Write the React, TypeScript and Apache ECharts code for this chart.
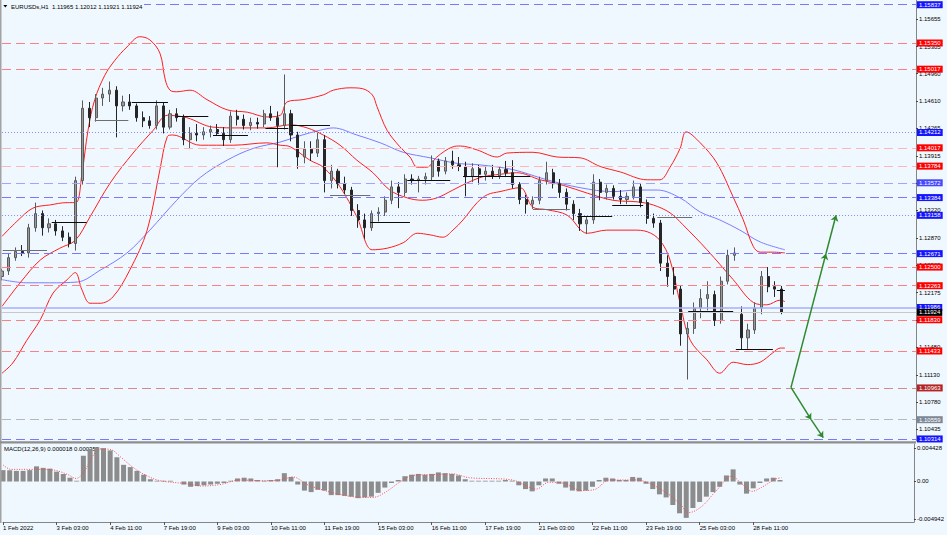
import React, { useEffect, useRef } from 'react';
import * as echarts from 'echarts';

// ---------------- data ----------------
const symbolName = 'EURUSDs,H1';
const headerQuote = ['1.11965', '1.12012', '1.11921', '1.11924'];
const macdName = 'MACD(12,26,9)';
const macdReadout = ['0.000018', '0.000355'];

const xTickLabels = [
  '1 Feb 2022', '3 Feb 03:00', '4 Feb 11:00', '7 Feb 19:00', '9 Feb 03:00',
  '10 Feb 11:00', '11 Feb 19:00', '15 Feb 03:00', '16 Feb 11:00', '17 Feb 19:00',
  '21 Feb 03:00', '22 Feb 11:00', '23 Feb 19:00', '25 Feb 03:00', '28 Feb 11:00',
];
const barsPerLabel = 8; // 4-hour bars between two time labels
const slotCount = 137; // bars incl. the empty space on the right
const categories = Array.from({ length: slotCount }, (_, i) => 'b' + i);

const priceTicks = [
  1.15655, 1.15305, 1.1496, 1.1461, 1.14265, 1.13915, 1.1357, 1.1322,
  1.1287, 1.12525, 1.12175, 1.1183, 1.1148, 1.1113, 1.1078, 1.10435,
];
const priceAxisMin = 1.10288;
const priceAxisMax = 1.15897;

const macdTicks = [0.004428, 0, -0.004942];
const macdAxisMin = -0.005345;
const macdAxisMax = 0.004949;

// [open, high, low, close]
const candlesOHLC = [
  [1.1238, 1.1248, 1.1233, 1.1245], [1.1245, 1.1268, 1.124, 1.1262], [1.1262, 1.1275, 1.1258, 1.127],
  [1.127, 1.1278, 1.1264, 1.1268], [1.1268, 1.1305, 1.1262, 1.13], [1.13, 1.1332, 1.1295, 1.1318],
  [1.1318, 1.1322, 1.129, 1.13], [1.13, 1.1312, 1.1294, 1.1305], [1.1305, 1.131, 1.129, 1.1296],
  [1.1296, 1.1302, 1.1283, 1.1288], [1.1288, 1.1294, 1.1275, 1.128], [1.128, 1.1365, 1.1271, 1.136],
  [1.136, 1.1462, 1.1355, 1.1452], [1.1452, 1.146, 1.1428, 1.144], [1.144, 1.147, 1.1435, 1.1465],
  [1.1465, 1.1478, 1.1455, 1.147], [1.147, 1.1486, 1.146, 1.1475], [1.1475, 1.148, 1.1415, 1.1455],
  [1.1455, 1.1468, 1.1448, 1.146], [1.146, 1.147, 1.145, 1.1455], [1.1455, 1.1458, 1.1435, 1.144],
  [1.144, 1.1448, 1.1428, 1.1436], [1.1436, 1.1442, 1.1426, 1.143], [1.143, 1.1462, 1.1425, 1.1455],
  [1.1455, 1.146, 1.142, 1.1428], [1.1428, 1.145, 1.1425, 1.1445], [1.1445, 1.1452, 1.1435, 1.144],
  [1.144, 1.1444, 1.1405, 1.1412], [1.1412, 1.1428, 1.14, 1.142], [1.142, 1.1432, 1.141, 1.1418],
  [1.1418, 1.1428, 1.1412, 1.1422], [1.1422, 1.143, 1.1415, 1.1425], [1.1425, 1.1432, 1.1418, 1.142],
  [1.142, 1.1428, 1.1404, 1.1412], [1.1412, 1.1448, 1.1408, 1.1442], [1.1442, 1.145, 1.143, 1.1438],
  [1.1438, 1.1444, 1.1425, 1.143], [1.143, 1.144, 1.1424, 1.1434], [1.1434, 1.144, 1.1426, 1.1432],
  [1.1432, 1.145, 1.1428, 1.1445], [1.1445, 1.1455, 1.1436, 1.144], [1.144, 1.1448, 1.1377, 1.143],
  [1.143, 1.1495, 1.1425, 1.1445], [1.1445, 1.145, 1.141, 1.1418], [1.1418, 1.1422, 1.1375, 1.139],
  [1.139, 1.141, 1.1382, 1.14], [1.14, 1.141, 1.1385, 1.1395], [1.1395, 1.1422, 1.139, 1.1412],
  [1.1412, 1.1418, 1.1345, 1.136], [1.136, 1.138, 1.135, 1.1372], [1.1372, 1.1375, 1.135, 1.1356],
  [1.1356, 1.1365, 1.1343, 1.1348], [1.1348, 1.1352, 1.1315, 1.1322], [1.1322, 1.133, 1.13, 1.131],
  [1.131, 1.1318, 1.1286, 1.13], [1.13, 1.1322, 1.1296, 1.1318], [1.1318, 1.1326, 1.1308, 1.132],
  [1.132, 1.134, 1.1315, 1.1335], [1.1335, 1.136, 1.133, 1.1352], [1.1352, 1.1358, 1.1325, 1.1345],
  [1.1345, 1.1368, 1.134, 1.1362], [1.1362, 1.1368, 1.1355, 1.136], [1.136, 1.1366, 1.1345, 1.1362],
  [1.1362, 1.137, 1.1355, 1.1365], [1.1365, 1.1392, 1.136, 1.1385], [1.1385, 1.1388, 1.1365, 1.1372],
  [1.1372, 1.139, 1.1368, 1.1385], [1.1385, 1.1398, 1.1375, 1.138], [1.138, 1.139, 1.1372, 1.1378],
  [1.1378, 1.1384, 1.134, 1.1365], [1.1365, 1.1382, 1.1358, 1.1375], [1.1375, 1.138, 1.1355, 1.1368],
  [1.1368, 1.1378, 1.136, 1.1372], [1.1372, 1.138, 1.1362, 1.1366], [1.1366, 1.1378, 1.1362, 1.1374],
  [1.1374, 1.1385, 1.1366, 1.137], [1.137, 1.1386, 1.135, 1.1355], [1.1355, 1.1358, 1.133, 1.1336],
  [1.1336, 1.1342, 1.1318, 1.133], [1.133, 1.134, 1.1324, 1.1335], [1.1335, 1.1365, 1.133, 1.136],
  [1.136, 1.1384, 1.1355, 1.137], [1.137, 1.1375, 1.135, 1.1356], [1.1356, 1.1362, 1.1338, 1.1345],
  [1.1345, 1.135, 1.1322, 1.133], [1.133, 1.1335, 1.131, 1.1318], [1.1318, 1.1324, 1.1296, 1.1305],
  [1.1305, 1.1315, 1.1292, 1.131], [1.131, 1.1368, 1.1305, 1.1358], [1.1358, 1.1362, 1.1335, 1.1345],
  [1.1345, 1.1355, 1.1336, 1.135], [1.135, 1.1354, 1.1336, 1.134], [1.134, 1.1348, 1.133, 1.1336],
  [1.1336, 1.1345, 1.133, 1.134], [1.134, 1.136, 1.1336, 1.1352], [1.1352, 1.1356, 1.1326, 1.1332],
  [1.1332, 1.1336, 1.1305, 1.1312], [1.1312, 1.1318, 1.13, 1.1306], [1.1306, 1.131, 1.1245, 1.1255],
  [1.1255, 1.1265, 1.1225, 1.1238], [1.1238, 1.125, 1.1215, 1.1222], [1.1222, 1.1226, 1.115, 1.1165],
  [1.1165, 1.118, 1.1107, 1.1172], [1.1172, 1.1205, 1.1165, 1.1198], [1.1198, 1.1222, 1.1185, 1.121],
  [1.121, 1.1232, 1.1195, 1.1215], [1.1215, 1.122, 1.1175, 1.1182], [1.1182, 1.1238, 1.1178, 1.1232],
  [1.1232, 1.1272, 1.1228, 1.1265], [1.1265, 1.1275, 1.1258, 1.1268], [1.119, 1.12, 1.1145, 1.116],
  [1.116, 1.1178, 1.1146, 1.117], [1.117, 1.1205, 1.1165, 1.1198], [1.1198, 1.1245, 1.119, 1.1238],
  [1.1238, 1.125, 1.1218, 1.1225], [1.1225, 1.1232, 1.1212, 1.1222], [1.1222, 1.1226, 1.119, 1.11924],
];

// Bollinger bands and moving average: [bar position, price]
const bbUpper = [
  [0, 1.1289], [2.2, 1.1308], [4.6, 1.1325], [7.1, 1.1329], [9.7, 1.1332], [11.0, 1.1332],
  [11.9, 1.1369], [12.8, 1.1424], [13.8, 1.1463], [15.3, 1.1494], [16.8, 1.1513], [18.6, 1.153],
  [20.5, 1.1543], [22.0, 1.1539], [23.5, 1.1522], [24.3, 1.1488], [25.0, 1.1475], [26.0, 1.1473],
  [28.0, 1.1475], [30.5, 1.1463], [33.5, 1.145], [36.5, 1.1447], [39.4, 1.1441], [41.4, 1.1443],
  [42.4, 1.146], [44.8, 1.1463], [47.8, 1.1469], [49.3, 1.1475], [51.8, 1.1478], [53.6, 1.1477],
  [55.1, 1.1469], [55.8, 1.1454], [57.3, 1.1424], [59.2, 1.1403], [60.7, 1.139], [61.8, 1.1377],
  [63.2, 1.1377], [64.7, 1.139], [67.1, 1.1403], [68.2, 1.1404], [70.7, 1.1399], [73.7, 1.139],
  [75.1, 1.1395], [79.0, 1.1396], [82.6, 1.139], [86.0, 1.1389], [89.0, 1.1378], [92.0, 1.1371],
  [96.0, 1.1361], [97.9, 1.1361], [99.4, 1.1377], [100.9, 1.1401], [101.8, 1.1422], [103.9, 1.1408],
  [106.4, 1.1382], [108.8, 1.1339], [110.3, 1.131], [111.8, 1.1276], [112.8, 1.1269], [114.7, 1.1269],
  [116.5, 1.1268],
];
const bbMiddle = [
  [0, 1.12], [2.7, 1.123], [5.7, 1.1259], [8.6, 1.1274], [10.9, 1.1284], [13.1, 1.1314],
  [16.1, 1.1357], [19.5, 1.1395], [22.5, 1.1424], [24.6, 1.1443], [27.5, 1.144], [31.4, 1.1428],
  [35.4, 1.1427], [39.4, 1.1427], [42.9, 1.1431], [45.4, 1.1427], [47.8, 1.1418], [50.3, 1.1405],
  [52.8, 1.1386], [55.2, 1.137], [57.7, 1.1348], [60.3, 1.1338], [62.6, 1.1335], [64.7, 1.1338],
  [67.1, 1.1348], [69.2, 1.1357], [71.6, 1.1365], [74.1, 1.1368], [76.6, 1.137], [80.1, 1.1361],
  [83.5, 1.1354], [87.1, 1.1344], [90.9, 1.1335], [94.5, 1.1333], [96.9, 1.1329], [99.4, 1.1319],
  [101.3, 1.1304], [104.9, 1.1272], [108.8, 1.1234], [111.8, 1.1205], [113.8, 1.1202], [115.8, 1.1208],
  [116.5, 1.1206],
];
const bbLower = [
  [0, 1.1115], [1.6, 1.1128], [3.7, 1.1157], [5.7, 1.1183], [7.6, 1.1217], [9.7, 1.1234],
  [10.9, 1.1243], [11.9, 1.1221], [13.1, 1.1204], [14.6, 1.1204], [16.5, 1.1212], [19.0, 1.1246],
  [21.6, 1.1297], [23.5, 1.1374], [24.6, 1.1416], [25.4, 1.1418], [29.5, 1.1405], [34.4, 1.1405],
  [39.4, 1.1408], [41.4, 1.1405], [42.9, 1.1403], [45.8, 1.1386], [47.8, 1.1377], [50.3, 1.1352],
  [52.8, 1.1314], [55.1, 1.1272], [57.3, 1.1274], [59.7, 1.1281], [61.8, 1.1293], [63.7, 1.1291],
  [65.6, 1.1288], [67.1, 1.1297], [68.6, 1.131], [70.7, 1.1332], [72.2, 1.1342], [74.1, 1.1346],
  [77.1, 1.1351], [79.0, 1.1326], [81.1, 1.1323], [84.1, 1.1316], [87.1, 1.1293], [90.0, 1.1297],
  [93.9, 1.1297], [96.0, 1.1295], [97.9, 1.1284], [99.4, 1.1259], [100.9, 1.1204], [102.4, 1.1157],
  [104.9, 1.1132], [106.8, 1.1115], [108.8, 1.1129], [110.9, 1.1126], [112.8, 1.1129], [114.7, 1.1141],
  [115.8, 1.1147], [116.5, 1.1147],
];
const maLine = [
  [0, 1.1234], [3.7, 1.123], [7.1, 1.123], [11.2, 1.1231], [14.6, 1.1246], [18.6, 1.1268],
  [22.0, 1.1297], [26.0, 1.1335], [29.5, 1.1364], [33.5, 1.1386], [37.4, 1.1401], [41.4, 1.1409],
  [44.3, 1.1417], [47.3, 1.1424], [49.3, 1.1427], [52.8, 1.1418], [56.3, 1.1408], [59.7, 1.1396],
  [63.7, 1.1389], [67.7, 1.1382], [71.1, 1.138], [76.0, 1.1374], [81.1, 1.1361], [86.0, 1.1351],
  [90.9, 1.1346], [94.5, 1.1348], [97.5, 1.1348], [100.9, 1.1338], [103.9, 1.132], [106.8, 1.131],
  [109.8, 1.1297], [112.8, 1.1282], [116.5, 1.1272],
];

// horizontal price levels drawn on the chart
const levelPrices = [
  1.15837, 1.1535, 1.15017, 1.14212, 1.14017, 1.13784, 1.13572, 1.13384, 1.13158, 1.12671,
  1.125, 1.12263, 1.11986, 1.11924, 1.1183, 1.11433, 1.10963, 1.10559, 1.10314,
];
const levelKinds = [
  'blue', 'red', 'red', 'blueDot', 'paleRed', 'paleRed', 'blueLight', 'blue', 'blueDot', 'blue',
  'red', 'red', 'blueSolid', 'bid', 'red', 'red', 'darkRed', 'gray', 'blue',
];

// short horizontal segments: [from bar, to bar, price]
const segments = [
  [0.1, 6.7, 1.1272], [7.4, 12.6, 1.1307], [13.8, 18.8, 1.1437], [19.3, 24.7, 1.146],
  [26.0, 30.7, 1.1442], [31.4, 36.6, 1.1418], [39.2, 42.6, 1.1426], [42.9, 48.8, 1.143],
  [48.8, 54.8, 1.1342], [54.8, 60.7, 1.1307], [60.3, 66.7, 1.1361], [68.6, 78.6, 1.1365],
  [79.0, 84.5, 1.1323], [85.6, 90.8, 1.1315], [90.8, 95.4, 1.1329], [97.5, 102.7, 1.1313],
  [102.1, 108.8, 1.1194], [109.2, 114.7, 1.1146], [115.3, 116.5, 1.1221],
];
const greySegments = [0, 2, 8, 12, 15];

// projection arrows: [bar, price]
const arrowUp = [[117.4, 1.1097], [122.6, 1.1267], [124.1, 1.1316]];
const arrowDown = [[117.4, 1.1097], [120.4, 1.1056], [122.2, 1.1033]];

// MACD main (histogram) per 4-hour bar
const macdHist = [
  0.0015, 0.0015, 0.0014, 0.0014, 0.0015, 0.002, 0.0018, 0.0017, 0.0013, 0.001,
  0.0005, 0.0001, 0.0034, 0.0043, 0.0045, 0.0044, 0.0041, 0.0032, 0.0022, 0.0019,
  0.0014, 0.0009, 0.0003, 0.0001, 0.0001, 0.0001, 0.0, -0.0004, -0.0007, -0.0006,
  -0.0005, -0.0004, -0.0003, -0.0002, 0.0001, 0.0004, 0.0005, 0.0004, 0.0002, 0.0001,
  0.0002, 0.0003, 0.0011, 0.0006, -0.0004, -0.0012, -0.0014, -0.0011, -0.0012, -0.0018,
  -0.0018, -0.0019, -0.002, -0.0022, -0.0021, -0.002, -0.0015, -0.0008, -0.0002, 0.0002,
  0.0007, 0.0009, 0.001, 0.0009, 0.001, 0.0012, 0.0011, 0.001, 0.0008, 0.0003,
  0.0001, 0.0001, 0.0001, 0.0001, 0.0001, 0.0002, 0.0001, -0.0005, -0.001, -0.0013,
  -0.0005, 0.0004, 0.0004, -0.0003, -0.0008, -0.0012, -0.0013, -0.0012, -0.0007, 0.0002,
  0.0005, 0.0004, 0.0002, 0.0002, 0.0006, 0.0005, -0.0003, -0.001, -0.0017, -0.0021,
  -0.0031, -0.0042, -0.0048, -0.0035, -0.0027, -0.002, -0.0014, -0.0007, 0.0008, 0.0016,
  -0.0004, -0.0016, -0.0009, -0.0002, 0.0004, 0.0005, 0.0002,
];
const macdSignal = [
  [0, 0.0022], [1.2, 0.0016], [4.6, 0.0016], [7.6, 0.0015], [9.7, 0.0009], [10.9, 0.0004],
  [12.1, 0.0013], [13.5, 0.0035], [14.6, 0.0043], [16.1, 0.0042], [17.6, 0.0032], [19.5, 0.0018],
  [21.6, 0.0007], [23.5, 0.0001], [27.5, -0.0003], [29.5, -0.0006], [32.4, -0.0004], [35.4, 0.0002],
  [38.4, 0.0001], [41.4, 0.0002], [43.3, 0.0006], [45.4, -0.0004], [47.3, -0.001], [49.3, -0.0015],
  [52.2, -0.002], [55.2, -0.0021], [57.3, -0.0013], [59.2, -0.0001], [61.2, 0.0008], [64.1, 0.0009],
  [67.1, 0.001], [69.6, 0.0005], [76.0, 0.0002], [79.6, -0.001], [81.5, -0.0001], [83.5, -0.0002],
  [86.5, -0.0012], [88.5, -0.001], [90.5, 0.0002], [94.5, 0.0002], [96.4, -0.0002], [99.4, -0.0017],
  [101.3, -0.0032], [102.4, -0.0041], [104.3, -0.0033], [106.4, -0.0013], [108.8, 0.0007], [110.3, -0.0003],
  [111.8, -0.0013], [113.2, -0.0008], [115.3, 0.0003], [116.2, 0.0005],
];

// ---------------- styles ----------------
const FONT = '"Liberation Sans", Arial, sans-serif';
const BG = '#f0f8ff';
const DASH = [9, 5];
const levelStyleMap: Record<string, { line: string; type: any; width: number; box: string }> = {
  blue: { line: '#7878ff', type: DASH, width: 1, box: '#1414ff' },
  blueLight: { line: '#a4a4ff', type: DASH, width: 1, box: '#4646ff' },
  blueDot: { line: '#8c8cff', type: [1, 2], width: 1, box: '#1414ff' },
  blueSolid: { line: '#a6aeff', type: 'solid', width: 1.6, box: '#1414ff' },
  bid: { line: '#c8c8c8', type: 'solid', width: 1, box: '#000000' },
  red: { line: '#ff8080', type: DASH, width: 1, box: '#ff0000' },
  paleRed: { line: '#ffb6b6', type: DASH, width: 1, box: '#ff0000' },
  darkRed: { line: '#d48a8a', type: DASH, width: 1, box: '#b32424' },
  gray: { line: '#b8b8b8', type: DASH, width: 1, box: '#7d8796' },
};

function buildOption() {
  const isLabelSlot = (i: number) => i % barsPerLabel === 0 && i / barsPerLabel < xTickLabels.length;

  const levelLines = levelPrices.map((p, i) => {
    const s = levelStyleMap[levelKinds[i]];
    return {
      yAxis: p,
      lineStyle: { color: s.line, type: s.type, width: s.width },
      label: {
        show: true,
        position: 'end',
        distance: 1,
        formatter: p.toFixed(5),
        color: '#ffffff',
        backgroundColor: s.box,
        padding: [0, 2, 0, 2],
        fontSize: 6,
        lineHeight: 7,
        fontFamily: FONT,
      },
    };
  });

  const segLines = segments.map(([a, b, p], i) => [
    {
      coord: [a, p],
      symbol: 'none',
      lineStyle: { color: greySegments.includes(i) ? '#6e6e6e' : '#0c0c0c', type: 'solid', width: 1 },
      label: { show: false },
    },
    { coord: [b, p], symbol: 'none' },
  ]);

  const arrowStyle = { color: '#2f8a2f', type: 'solid', width: 1.5 };
  const arrowLines: any[] = [];
  [arrowUp, arrowDown].forEach((pts) => {
    arrowLines.push([
      { coord: pts[0], symbol: 'none', lineStyle: arrowStyle, label: { show: false } },
      { coord: pts[1], symbol: 'arrow', symbolSize: 6 },
    ]);
    arrowLines.push([
      { coord: pts[1], symbol: 'none', lineStyle: arrowStyle, label: { show: false } },
      { coord: pts[2], symbol: 'arrow', symbolSize: 6 },
    ]);
  });

  const lineSeries = (name: string, data: number[][], color: string, extra: any = {}) => ({
    name,
    type: 'line',
    xAxisIndex: 2,
    yAxisIndex: 0,
    data,
    smooth: 0.35,
    symbol: 'none',
    silent: true,
    lineStyle: { color, width: 1 },
    emphasis: { disabled: true },
    ...extra,
  });

  return {
    animation: false,
    backgroundColor: BG,
    textStyle: { fontFamily: FONT },
    grid: [
      { left: 2, top: 0, width: 914, height: 441 },
      { left: 2, top: 444, width: 914, height: 78 },
    ],
    xAxis: [
      { type: 'category', gridIndex: 0, data: categories, boundaryGap: false, show: false },
      {
        type: 'category',
        gridIndex: 1,
        data: categories,
        boundaryGap: false,
        axisLine: { show: true, onZero: false, lineStyle: { color: '#858585', width: 1 } },
        axisTick: { show: true, interval: isLabelSlot, length: 3, lineStyle: { color: '#555' } },
        axisLabel: {
          show: true,
          interval: isLabelSlot,
          formatter: (_v: string, idx: number) => xTickLabels[idx / barsPerLabel] ?? '',
          align: 'left',
          margin: 3,
          fontSize: 6,
          color: '#000',
          fontFamily: FONT,
        },
        splitLine: { show: false },
      },
      { type: 'value', gridIndex: 0, min: 0, max: slotCount - 1, show: false },
      { type: 'value', gridIndex: 1, min: 0, max: slotCount - 1, show: false },
    ],
    yAxis: [
      {
        type: 'value',
        gridIndex: 0,
        position: 'right',
        min: priceAxisMin,
        max: priceAxisMax,
        axisLine: { show: true, onZero: false, lineStyle: { color: '#858585' } },
        axisTick: { show: true, length: 2, customValues: priceTicks, lineStyle: { color: '#444' } },
        axisLabel: {
          show: true,
          customValues: priceTicks,
          formatter: (v: number) => v.toFixed(5),
          fontSize: 6,
          color: '#000',
          margin: 3,
          fontFamily: FONT,
        },
        splitLine: { show: false },
      },
      {
        type: 'value',
        gridIndex: 1,
        position: 'right',
        min: macdAxisMin,
        max: macdAxisMax,
        axisLine: { show: true, onZero: false, lineStyle: { color: '#858585' } },
        axisTick: { show: true, length: 2, customValues: macdTicks, lineStyle: { color: '#444' } },
        axisLabel: {
          show: true,
          customValues: macdTicks,
          formatter: (v: number) => (v === 0 ? '0.00' : v.toFixed(6)),
          fontSize: 6,
          color: '#000',
          margin: 3,
          fontFamily: FONT,
        },
        splitLine: { show: false },
      },
    ],
    series: [
      lineSeries('levels', [], '#000', {
        clip: false,
        markLine: {
          silent: true,
          precision: 6,
          symbol: ['none', 'none'],
          animation: false,
          emphasis: { disabled: true },
          data: [...levelLines, ...segLines, ...arrowLines],
        },
      }),
      lineSeries('MA', maLine, '#7c7cff', { z: 3 }),
      lineSeries('BB upper', bbUpper, '#ff1e1e', { z: 3 }),
      lineSeries('BB middle', bbMiddle, '#ff1e1e', { z: 3 }),
      lineSeries('BB lower', bbLower, '#ff1e1e', { z: 3 }),
      {
        name: 'EURUSD',
        type: 'candlestick',
        xAxisIndex: 0,
        yAxisIndex: 0,
        data: candlesOHLC.map(([o, h, l, c]) => [o, c, l, h]),
        barWidth: 2.6,
        silent: true,
        z: 4,
        emphasis: { disabled: true },
        itemStyle: {
          color: '#9a9a9a',
          color0: '#262626',
          borderColor: '#5a5a5a',
          borderColor0: '#262626',
          borderWidth: 1,
        },
      },
      {
        name: 'MACD',
        type: 'bar',
        xAxisIndex: 1,
        yAxisIndex: 1,
        data: macdHist,
        barWidth: 5,
        silent: true,
        itemStyle: { color: '#8c8c8c' },
        emphasis: { disabled: true },
      },
      {
        name: 'Signal',
        type: 'line',
        xAxisIndex: 3,
        yAxisIndex: 1,
        data: macdSignal,
        smooth: 0.35,
        symbol: 'none',
        silent: true,
        z: 3,
        lineStyle: { color: '#ff4a4a', width: 1, type: [1, 1.5] },
        emphasis: { disabled: true },
      },
    ],
    graphic: [
      { type: 'rect', silent: true, z: 5, shape: { x: 0, y: 0, width: 1.5, height: 523 }, style: { fill: '#a3a3a3' } },
      { type: 'rect', silent: true, z: 5, shape: { x: 0, y: 441.3, width: 916, height: 2.2 }, style: { fill: '#8e8e8e' } },
      { type: 'rect', silent: true, z: 10, shape: { x: 2, y: 0.5, width: 142, height: 10 }, style: { fill: BG } },
      {
        type: 'polygon',
        silent: true,
        z: 11,
        shape: { points: [[3.3, 5], [7.3, 5], [5.3, 7.6]] },
        style: { fill: '#000' },
      },
      {
        type: 'text',
        silent: true,
        z: 11,
        x: 11,
        y: 6.5,
        style: {
          text: symbolName + '  ' + headerQuote.join(' '),
          fill: '#000',
          font: '6px "Liberation Sans", Arial, sans-serif',
          verticalAlign: 'middle',
        },
      },
      {
        type: 'text',
        silent: true,
        z: 1,
        x: 4,
        y: 449,
        style: {
          text: macdName + ' ' + macdReadout.join(' '),
          fill: '#000',
          font: '6px "Liberation Sans", Arial, sans-serif',
          verticalAlign: 'middle',
        },
      },
    ],
  };
}

export default function App() {
  const ref = useRef<HTMLDivElement>(null);
  useEffect(() => {
    document.body.style.margin = '0';
    const chart = echarts.init(ref.current as HTMLDivElement, undefined, { renderer: 'svg', width: 947, height: 535 });
    chart.setOption(buildOption() as any);
    return () => chart.dispose();
  }, []);
  return (
    <div
      ref={ref}
      style={{ position: 'absolute', left: 0, top: 0, width: 947, height: 535, background: BG }}
    />
  );
}
